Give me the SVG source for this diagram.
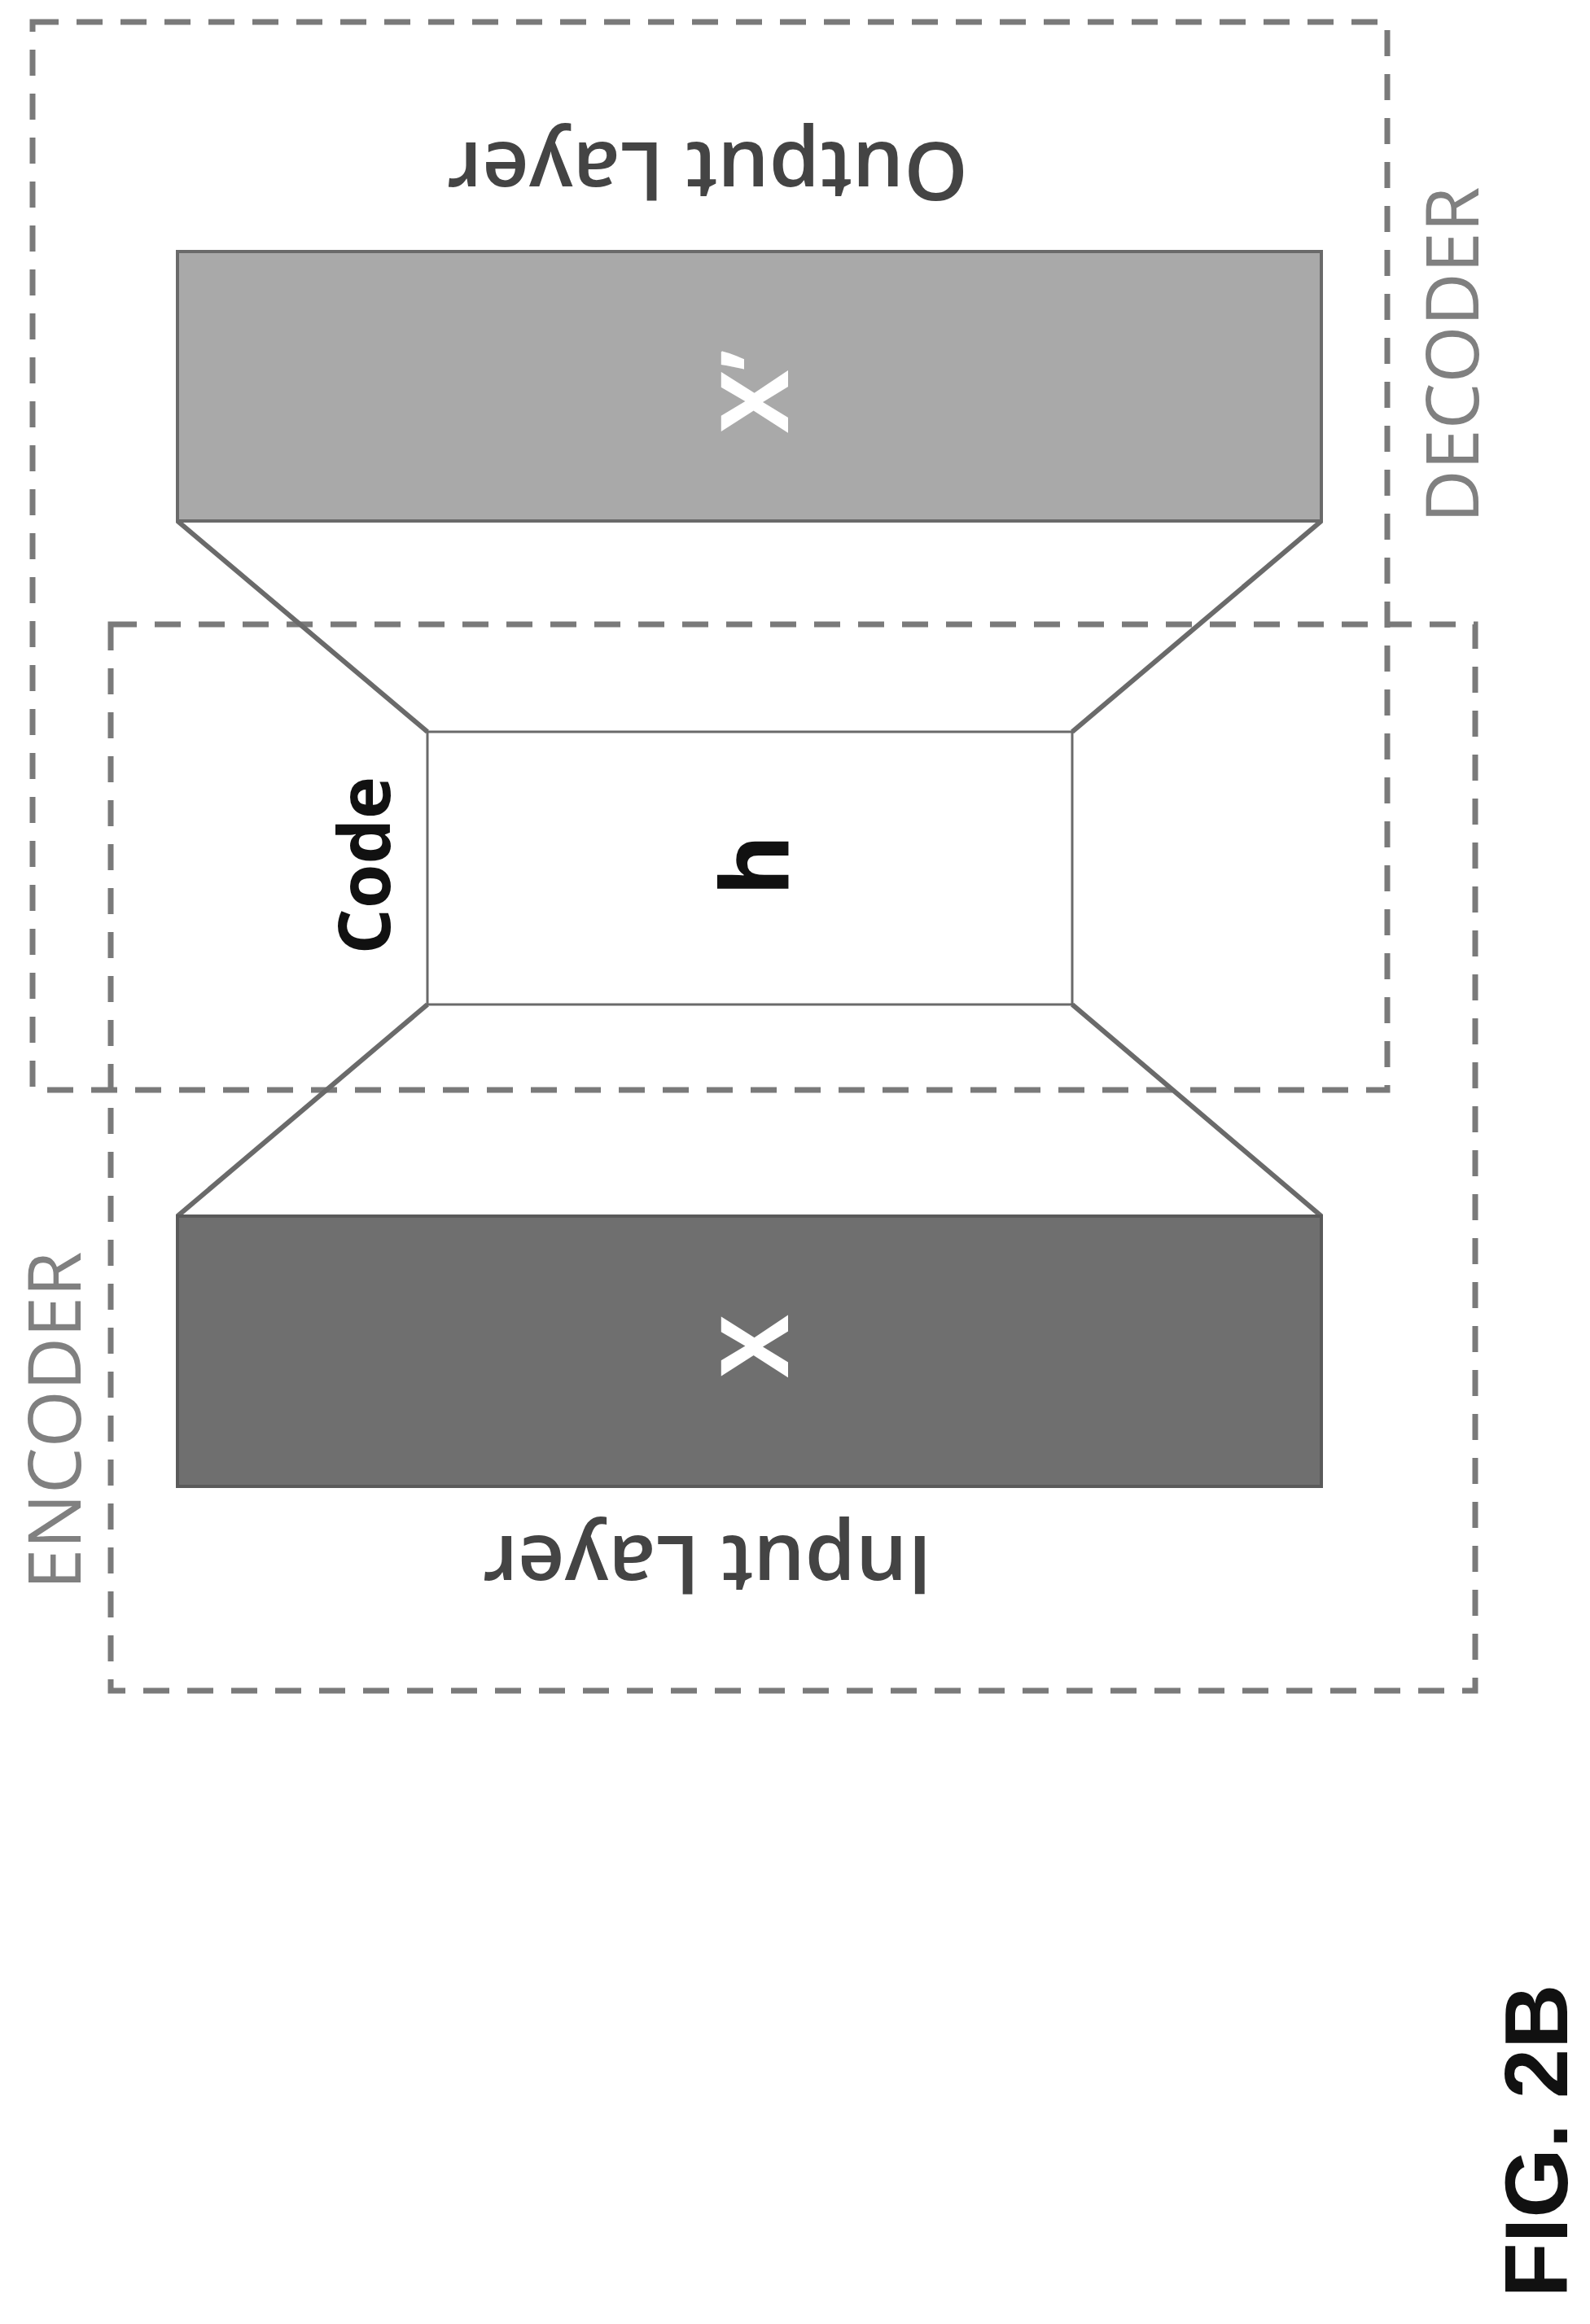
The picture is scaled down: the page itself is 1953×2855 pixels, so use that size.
<svg xmlns="http://www.w3.org/2000/svg" width="1953" height="2855" viewBox="0 0 1953 2855">
<style>
.dash{fill:none;stroke:#7a7a7a;stroke-width:7;stroke-dasharray:32 22}
.ln{stroke:#6a6a6a;stroke-width:6;fill:none}
.t{font-family:"Open Sans","Liberation Sans",sans-serif;text-anchor:middle;dominant-baseline:central}
</style>
<rect width="1953" height="2855" fill="#fff"/>
<g id="decoder"><rect class="dash" x="40" y="27" width="1664" height="1312"/>
<text class="t" transform="translate(1781,436) rotate(-90)" font-size="90" fill="#808080">DECODER</text></g>
<g id="encoder"><rect class="dash" x="136" y="767" width="1676" height="1310"/>
<text class="t" transform="translate(64,1745) rotate(-90)" font-size="90" fill="#808080">ENCODER</text></g>
<g id="connectors">
<line class="ln" x1="218" y1="640" x2="525" y2="899"/>
<line class="ln" x1="1623" y1="640" x2="1317" y2="899"/>
<line class="ln" x1="525" y1="1234" x2="218" y2="1494"/>
<line class="ln" x1="1317" y1="1234" x2="1623" y2="1494"/>
</g>
<g id="output"><rect x="218" y="309" width="1405" height="331" fill="#a9a9a9" stroke="#6a6a6a" stroke-width="4"/>
<text class="t" transform="translate(923,481) rotate(-90)" font-size="115" font-weight="bold" fill="#fff">X’</text>
<text class="t" transform="translate(869,214) rotate(180)" font-size="100" font-weight="600" fill="#444">Output Layer</text></g>
<g id="code"><rect x="525" y="899" width="792" height="335" fill="#fff" stroke="#6a6a6a" stroke-width="3"/>
<text class="t" transform="translate(923,1063) rotate(-90)" font-size="115" font-weight="bold" fill="#111">h</text>
<text class="t" transform="translate(445,1063) rotate(-90)" font-size="88" font-weight="bold" fill="#111">Code</text></g>
<g id="input"><rect x="218" y="1494" width="1405" height="332" fill="#6f6f6f" stroke="#5a5a5a" stroke-width="4"/>
<text class="t" transform="translate(923,1654) rotate(-90)" font-size="115" font-weight="bold" fill="#fff">X</text>
<text class="t" transform="translate(869,1926) rotate(180)" font-size="100" font-weight="600" fill="#444">Input Layer</text></g>
<g id="fig"><text class="t" transform="translate(1886,2630) rotate(-90)" font-size="110" font-weight="bold" fill="#111" style="font-family:'Liberation Sans',sans-serif">FIG. 2B</text></g>
</svg>
